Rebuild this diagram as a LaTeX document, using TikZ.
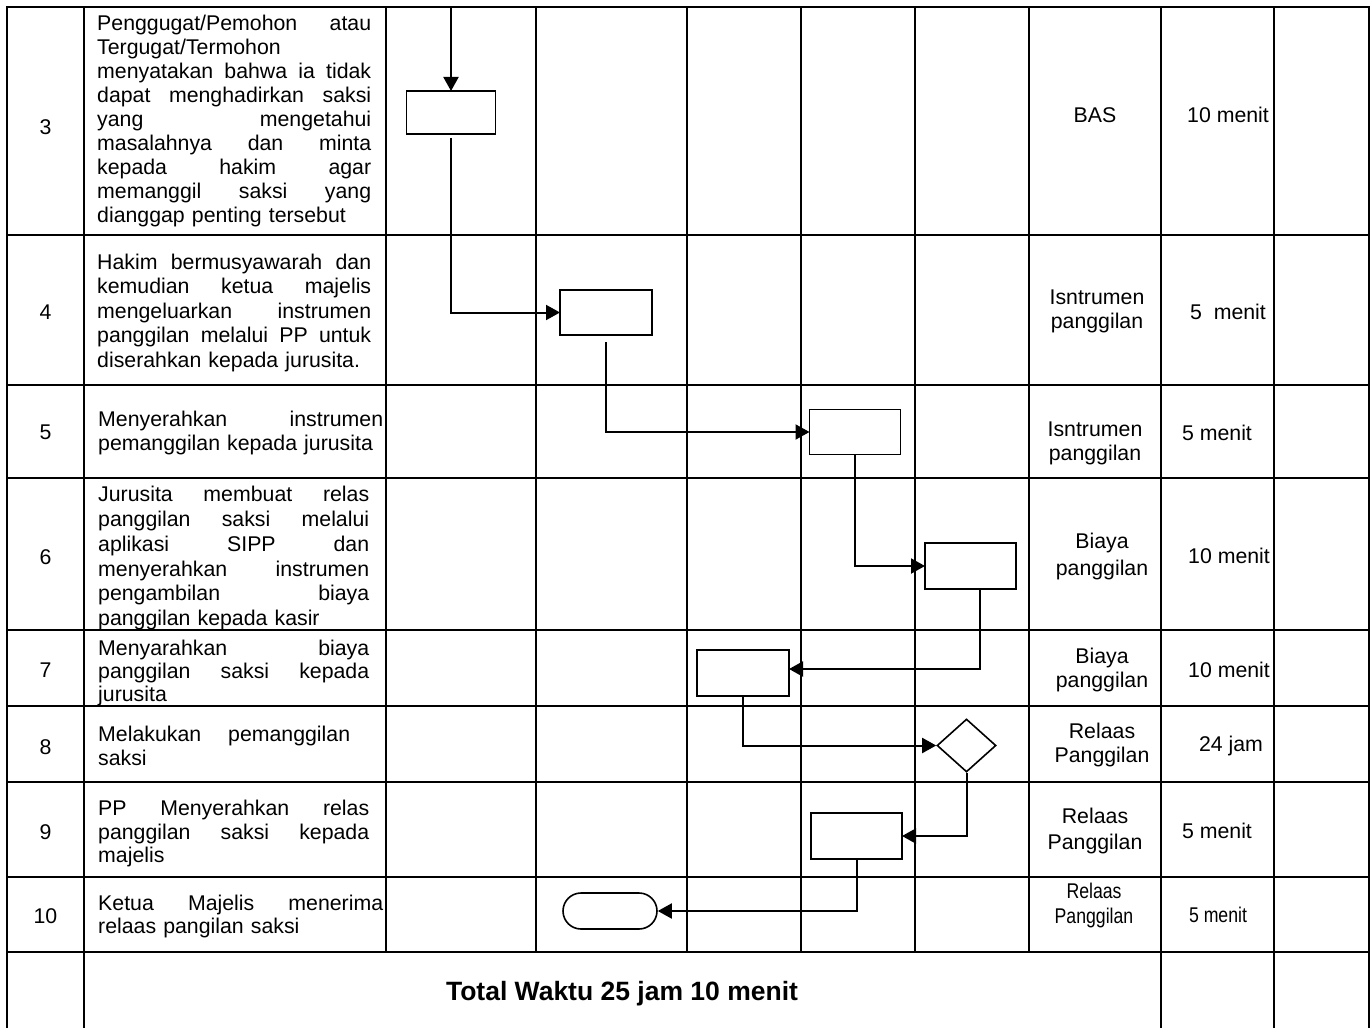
\documentclass[tikz,border=0pt]{standalone}
\usepackage{fontspec}
\setmainfont{Liberation Sans}
\newfontfamily\narrowfont[FakeStretch=0.83]{Liberation Sans}
\usetikzlibrary{arrows.meta,shapes.geometric}
\setlength\parindent{0pt}
\newcommand\jl[1]{\noindent\hbox to \hsize{#1}}
\newcommand\fl{\noindent\rule{0pt}{16pt}}
\begin{document}
\begin{tikzpicture}[x=1pt,y=-1pt,
  font=\fontsize{21.3}{24}\selectfont,
  grid/.style={line width=2pt,line cap=rect},
  box/.style={draw,line width=1.6pt,rectangle,inner sep=0pt,outer sep=0pt,minimum width=#1,minimum height=45pt},
  flow/.style={line width=2pt,-{Triangle[length=14pt,width=15pt]}},
  desc/.style 2 args={anchor=north west,inner sep=0pt,align=left,text width=#1,font={\fontsize{21.3}{#2}\selectfont}},
  num/.style={inner sep=0pt,anchor=center},
  cell/.style={inner sep=0pt,anchor=center,align=center,font={\fontsize{21.3}{#1}\selectfont}},
]
\useasboundingbox (0,0) rectangle (1372,1027);
\fill[white] (0,0) rectangle (1372,1027);

% ---- row numbers
\node[num] (n3) at (45.5,127) {3};
\node[num] (n4) at (45.5,312) {4};
\node[num] (n5) at (45.5,432) {5};
\node[num] (n6) at (45.5,557) {6};
\node[num] (n7) at (45.5,670) {7};
\node[num] (n8) at (45.5,747) {8};
\node[num] (n9) at (45.5,832) {9};
\node[num] (n10) at (45.5,916) {10};

% ---- descriptions
\node[desc={274pt}{23.9pt}] (d3) at (97,14.7) {\fl\jl{Penggugat/Pemohon\hfill atau}\\
\fl Tergugat/Termohon\\
\jl{menyatakan\hfill bahwa\hfill ia\hfill tidak}\\
\jl{dapat\hfill menghadirkan\hfill saksi}\\
\jl{yang\hfill mengetahui}\\
\jl{masalahnya\hfill dan\hfill minta}\\
\jl{kepada\hfill hakim\hfill agar}\\
\jl{memanggil\hfill saksi\hfill yang}\\
\noindent dianggap penting tersebut};

\node[desc={274pt}{24.5pt}] (d4) at (97,253) {\fl\jl{Hakim\hfill bermusyawarah\hfill dan}\\
\jl{kemudian\hfill ketua\hfill majelis}\\
\jl{mengeluarkan\hfill instrumen}\\
\jl{panggilan\hfill melalui\hfill PP\hfill untuk}\\
\noindent diserahkan kepada jurusita.};

\node[desc={285pt}{24pt}] (d5) at (98,410.7) {\fl\jl{Menyerahkan\hfill instrumen}\\
\noindent pemanggilan kepada jurusita};

\node[desc={271pt}{24.7pt}] (d6) at (98,485.7) {\fl\jl{Jurusita\hfill membuat\hfill relas}\\
\jl{panggilan\hfill saksi\hfill melalui}\\
\jl{aplikasi\hfill SIPP\hfill dan}\\
\jl{menyerahkan\hfill instrumen}\\
\jl{pengambilan\hfill biaya}\\
\noindent panggilan kepada kasir};

\node[desc={271pt}{23.3pt}] (d7) at (98,639) {\fl\jl{Menyarahkan\hfill biaya}\\
\jl{panggilan\hfill saksi\hfill kepada}\\
\noindent jurusita};

\node[desc={252pt}{23.3pt}] (d8) at (98,725.7) {\fl\jl{Melakukan\hfill pemanggilan}\\
\noindent saksi};

\node[desc={271pt}{23.8pt}] (d9) at (98,799) {\fl\jl{PP\hfill Menyerahkan\hfill relas}\\
\jl{panggilan\hfill saksi\hfill kepada}\\
\noindent majelis};

\node[desc={285pt}{22.7pt}] (d10) at (98,894.7) {\fl\jl{Ketua\hfill Majelis\hfill menerima}\\
\noindent relaas pangilan saksi};

% ---- output column
\node[cell=24pt] (o3) at (1095,115) {BAS};
\node[cell=24pt] (o4) at (1097,311) {Isntrumen\\panggilan};
\node[cell=24pt] (o5) at (1095,443) {Isntrumen\\panggilan};
\node[cell=27pt] (o6) at (1102,556.5) {Biaya\\panggilan};
\node[cell=24pt] (o7) at (1102,670) {Biaya\\panggilan};
\node[cell=24pt] (o8) at (1102,745) {Relaas\\Panggilan};
\node[cell=26pt] (o9) at (1095,831) {Relaas\\Panggilan};
\node[cell=25pt,font={\narrowfont\fontsize{21.3}{25pt}\selectfont}] (o10) at (1094,905.5) {Relaas\\Panggilan};

% ---- time column
\node[cell=24pt] (t3) at (1228,115) {10 menit};
\node[cell=24pt] (t4) at (1228,312) {5\ \ menit};
\node[cell=24pt] (t5) at (1217,433) {5 menit};
\node[cell=24pt] (t6) at (1229,556) {10 menit};
\node[cell=24pt] (t7) at (1229,670) {10 menit};
\node[cell=24pt] (t8) at (1231,746) {24 jam};
\node[cell=24pt] (t9) at (1217,831) {5 menit};
\node[cell=24pt,font={\narrowfont\fontsize{21.3}{24pt}\selectfont}] (t10) at (1218,915) {5 menit};

% ---- total
\node[anchor=base,inner sep=0pt,font={\fontsize{26.5}{30}\selectfont\bfseries}] (tot) at (622,1000) {Total Waktu 25 jam 10 menit};

% ---- grid
\foreach \y in {7,235,385,478,630,706,782,877,952}
  \draw[grid] (7,\y) -- (1369,\y);
\foreach \x in {7,84,1161,1274,1369}
  \draw[grid] (\x,7) -- (\x,1027);
\foreach \x in {386,536,687,801,915,1029}
  \draw[grid] (\x,7) -- (\x,952);

% ---- flowchart symbols
\node[box=89pt,minimum height=43pt] (b1) at (451,112.5) {};
\node[box=92pt] (b2) at (606,312.5) {};
\node[box=91pt] (b3) at (855,432) {};
\node[box=91pt,minimum height=46pt] (b4) at (970.5,566) {};
\node[box=92pt,minimum height=46pt] (b5) at (743,673) {};
\node[draw,line width=1.6pt,diamond,inner sep=0pt,minimum width=59pt,minimum height=53pt] (dm) at (966.5,745.5) {};
\node[box=91pt,minimum height=46pt] (b6) at (856.5,836) {};
\node[draw,line width=1.6pt,rectangle,rounded corners=18pt,inner sep=0pt,minimum width=94pt,minimum height=36pt] (term) at (610,911) {};

% ---- connectors
\coordinate (start) at (451,7);
\draw[flow] (start) -- (b1.north);
\draw[flow] ([yshift=-4pt]b1.south) |- (b2.west);
\draw[flow] ([yshift=-7pt]b2.south) |- (b3.west);
\draw[flow] (b3.south) |- (b4.west);
\draw[flow] ([xshift=9.5pt]b4.south) |- ([yshift=4pt]b5.east);
\draw[flow] (b5.south) |- (dm.west);
\draw[flow] (dm.south) |- (b6.east);
\draw[flow] (b6.south) |- (term.east);
\end{tikzpicture}
\end{document}
